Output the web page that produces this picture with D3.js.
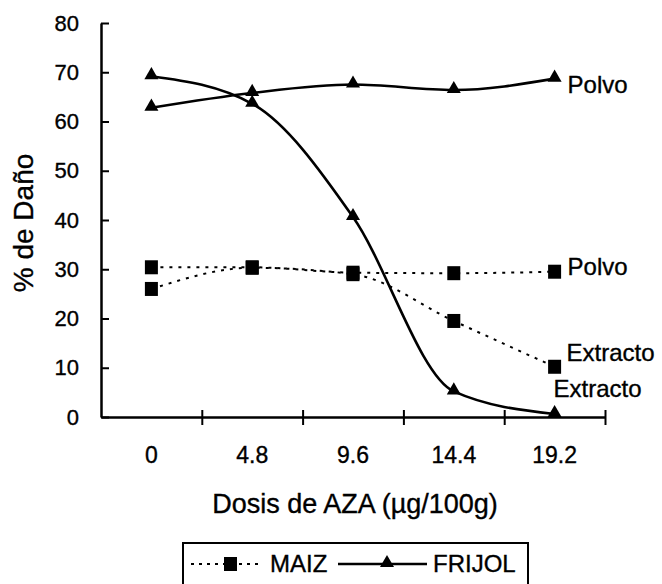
<!DOCTYPE html>
<html>
<head>
<meta charset="utf-8">
<script src="https://cdn.jsdelivr.net/npm/d3@7"></script>
<style>
  body { margin: 0; background: #fff; }
  text { font-family: "Liberation Sans", Arial, sans-serif; fill: #000; stroke: #000; stroke-width: 0.35px; }
</style>
</head>
<body>
<div class="chart"></div>
<script>
// chart data
var doses = ["0", "4.8", "9.6", "14.4", "19.2"];
var maizPolvo = [30.4, 30.4, 29.3, 29.2, 29.5];
var maizExtracto = [26.0, 30.3, 29.0, 19.5, 10.2];
var frijolPolvo = [62.8, 65.8, 67.5, 66.4, 68.7];
var frijolExtracto = [69.2, 63.6, 40.6, 5.2, 0.6];
var yTicks = [0, 10, 20, 30, 40, 50, 60, 70, 80];
var legendNames = ["MAIZ", "FRIJOL"];

var svgWidth = 662;
var svgHeight = 584;

var margin = { top: 23, right: 57, bottom: 167, left: 101 };
var width = svgWidth - margin.left - margin.right;
var height = svgHeight - margin.top - margin.bottom;

var svg = d3.select(".chart")
  .append("svg")
  .attr("width", svgWidth)
  .attr("height", svgHeight);

var chartGroup = svg.append("g")
  .attr("transform", `translate(${margin.left}, ${margin.top})`);

// scales
var xBand = d3.scaleBand()
  .domain(doses)
  .range([0, width]);

var xEdge = d3.scaleLinear()
  .domain([0, doses.length])
  .range([0, width]);

var yLinearScale = d3.scaleLinear()
  .domain([0, 80])
  .range([height, 0]);

var xc = function(i) { return xBand(doses[i]) + xBand.bandwidth() / 2; };

// y axis (ticks pointing inside)
var leftAxis = d3.axisLeft(yLinearScale)
  .tickValues(yTicks)
  .tickSizeInner(-8)
  .tickSizeOuter(0)
  .tickPadding(22);

var yAxis = chartGroup.append("g").call(leftAxis);
yAxis.select(".domain").attr("stroke-width", 2.5);
yAxis.selectAll(".tick line").attr("stroke-width", 2);
yAxis.selectAll(".tick text")
  .style("font-size", "22px")
  .attr("font-family", null);

// x axis: ticks on band edges, crossing the line
var bottomAxis = d3.axisBottom(xEdge)
  .tickValues(d3.range(1, doses.length + 1))
  .tickFormat("")
  .tickSizeOuter(0);

var xAxis = chartGroup.append("g")
  .attr("transform", `translate(0, ${height})`)
  .call(bottomAxis);
xAxis.select(".domain").attr("stroke-width", 2.5);
xAxis.selectAll(".tick line")
  .attr("y1", -7)
  .attr("y2", 8)
  .attr("stroke-width", 2);

chartGroup.append("g")
  .selectAll("text")
  .data(doses)
  .enter()
  .append("text")
  .attr("x", d => xBand(d) + xBand.bandwidth() / 2)
  .attr("y", height + 46)
  .attr("text-anchor", "middle")
  .style("font-size", "23px")
  .text(d => d);

// lines
var lineGen = d3.line()
  .x((d, i) => xc(i))
  .y(d => yLinearScale(d))
  .curve(d3.curveMonotoneX);

var series = [
  { values: maizPolvo, kind: "maiz" },
  { values: maizExtracto, kind: "maiz" },
  { values: frijolPolvo, kind: "frijol" },
  { values: frijolExtracto, kind: "frijol" }
];

series.forEach(function(s) {
  chartGroup.append("path")
    .datum(s.values)
    .attr("fill", "none")
    .attr("stroke", "#000")
    .attr("stroke-width", s.kind == "maiz" ? 2 : 2.6)
    .attr("stroke-dasharray", s.kind == "maiz" ? "3,6" : null)
    .attr("d", lineGen);
});

var triangle = d3.symbol().type(d3.symbolTriangle).size(85);

series.forEach(function(s) {
  var g = chartGroup.append("g");
  if (s.kind == "maiz") {
    g.selectAll("rect")
      .data(s.values)
      .enter()
      .append("rect")
      .attr("x", (d, i) => xc(i) - 6.5)
      .attr("y", d => yLinearScale(d) - 7)
      .attr("width", 13)
      .attr("height", 14)
      .attr("fill", "#000");
  } else {
    g.selectAll("path")
      .data(s.values)
      .enter()
      .append("path")
      .attr("d", triangle)
      .attr("transform", (d, i) => `translate(${xc(i)}, ${yLinearScale(d) - 1})`)
      .attr("fill", "#000");
  }
});

// series labels next to the last point
var last = doses.length - 1;
var endLabels = [
  { text: "Polvo", v: frijolPolvo[last], dx: 13, dy: 14 },
  { text: "Polvo", v: maizPolvo[last], dx: 13, dy: 3 },
  { text: "Extracto", v: maizExtracto[last], dx: 12, dy: -6 },
  { text: "Extracto", v: frijolExtracto[last], dx: -1, dy: -17 }
];

chartGroup.selectAll(".endLabel")
  .data(endLabels)
  .enter()
  .append("text")
  .attr("class", "endLabel")
  .attr("x", d => xc(last) + d.dx)
  .attr("y", d => yLinearScale(d.v) + d.dy)
  .style("font-size", "24px")
  .text(d => d.text);

// axis titles
chartGroup.append("text")
  .attr("transform", "rotate(-90)")
  .attr("x", 0 - 200)
  .attr("y", 0 - margin.left + 33)
  .attr("text-anchor", "middle")
  .style("font-size", "28px")
  .text("% de Daño");

chartGroup.append("text")
  .attr("x", 254)
  .attr("y", height + 96)
  .attr("text-anchor", "middle")
  .style("font-size", "27px")
  .text("Dosis de AZA (µg/100g)");

// legend
var legend = svg.append("g")
  .attr("transform", "translate(183, 543)");

legend.append("rect")
  .attr("width", 345)
  .attr("height", 60)
  .attr("fill", "none")
  .attr("stroke", "#000")
  .attr("stroke-width", 2);

legend.append("line")
  .attr("x1", 8).attr("x2", 78)
  .attr("y1", 21).attr("y2", 21)
  .attr("stroke", "#000")
  .attr("stroke-width", 2)
  .attr("stroke-dasharray", "3,5");

legend.append("rect")
  .attr("x", 41).attr("y", 14)
  .attr("width", 13).attr("height", 14)
  .attr("fill", "#000");

legend.append("line")
  .attr("x1", 155).attr("x2", 244)
  .attr("y1", 21).attr("y2", 21)
  .attr("stroke", "#000")
  .attr("stroke-width", 2.4);

legend.append("path")
  .attr("d", triangle)
  .attr("transform", "translate(204, 20)")
  .attr("fill", "#000");

legend.selectAll(".legText")
  .data(legendNames)
  .enter()
  .append("text")
  .attr("class", "legText")
  .attr("x", (d, i) => i == 0 ? 87 : 250)
  .attr("y", 29)
  .style("font-size", "24px")
  .text(d => d);
</script>
</body>
</html>
